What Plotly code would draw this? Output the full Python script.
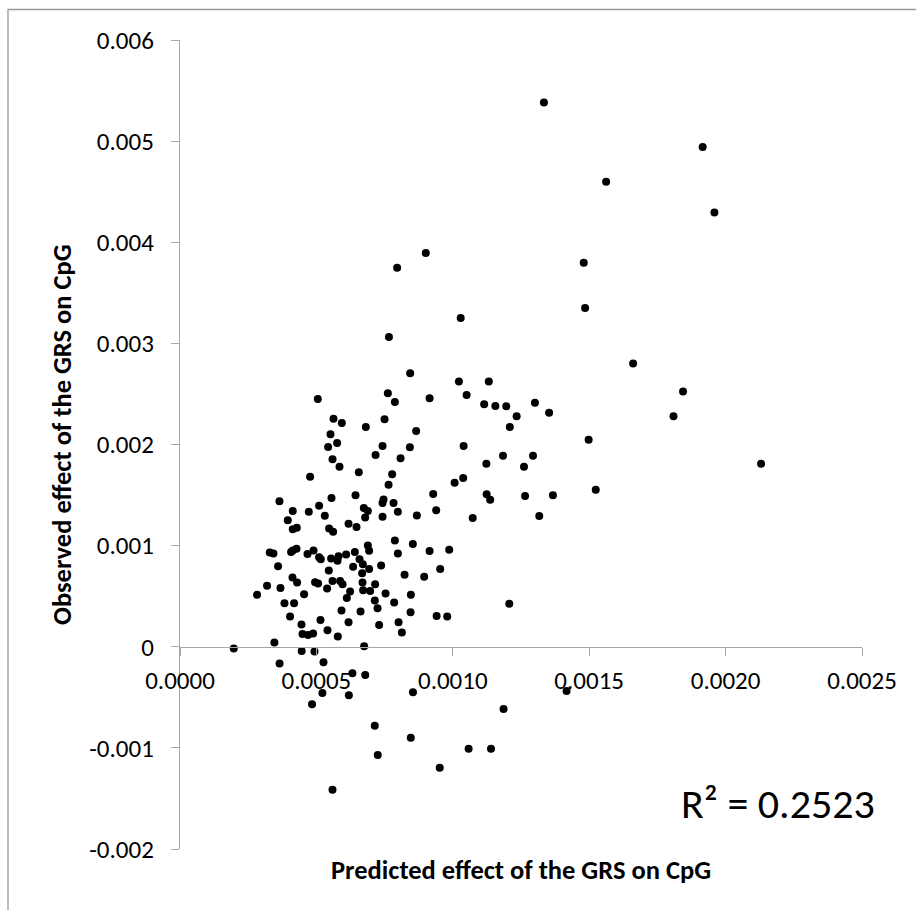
import plotly.graph_objects as go

# Predicted effect of the GRS on CpG (x) and observed effect (y)
upper_x = [0.000901, 0.000796, 0.001029, 0.000766, 0.001334, 0.001916, 0.001562, 0.001959, 0.001480, 0.001485]
upper_y = [0.003893, 0.003748, 0.003252, 0.003064, 0.005381, 0.004943, 0.004599, 0.004295, 0.003797, 0.003351]

right_x = [0.001661, 0.001132, 0.001844, 0.001115, 0.001156, 0.001196, 0.001301, 0.001353, 0.001234, 0.001809,
           0.001209, 0.001498, 0.001184, 0.001294, 0.001123, 0.001261, 0.002130, 0.001524, 0.001124, 0.001137,
           0.001265, 0.001367, 0.001073, 0.001317, 0.001207]
right_y = [0.002800, 0.002622, 0.002523, 0.002398, 0.002381, 0.002378, 0.002414, 0.002315, 0.002279, 0.002279,
           0.002173, 0.002048, 0.001889, 0.001889, 0.001810, 0.001780, 0.001810, 0.001552, 0.001507, 0.001453,
           0.001490, 0.001497, 0.001272, 0.001292, 0.000424]

low_x = [0.001417, 0.001186, 0.001140, 0.000197, 0.000346, 0.000446, 0.000493, 0.000675, 0.000365, 0.000526,
         0.000632, 0.000679, 0.000522, 0.000619, 0.000854, 0.000484, 0.000714, 0.000846, 0.000725, 0.001058,
         0.000952, 0.000559]
low_y = [-0.000438, -0.000616, -0.001008, -0.000018, 0.000042, -0.000042, -0.000048, 0.000005, -0.000166, -0.000153,
         -0.000262, -0.000279, -0.000457, -0.000480, -0.000450, -0.000569, -0.000780, -0.000899, -0.001071, -0.001008,
         -0.001196, -0.001414]

cluster_x = [0.0008437, 0.0010224, 0.0010506, 0.0005051, 0.0007619, 0.0007876, 0.0009149, 0.0005627, 0.0005932, 0.0007498,
             0.0006812, 0.0008657, 0.0005517, 0.0005759, 0.0005429, 0.0007425, 0.0008426, 0.0010396, 0.0007168, 0.0008085,
             0.0005591, 0.0005847, 0.0006555, 0.0007777, 0.0004769, 0.0010381, 0.0010066, 0.0007645, 0.0009281, 0.0006434,
             0.0005554, 0.0007461, 0.0007425, 0.0007828, 0.0003646, 0.0005099, 0.0006739, 0.0006886, 0.0004134, 0.0004721,
             0.0007986, 0.0009391, 0.0005308, 0.0006787, 0.0007425, 0.0008683, 0.0003951, 0.0006178, 0.0006471, 0.0004134,
             0.0004281, 0.0005466, 0.0005613, 0.0007876, 0.0008536, 0.0006886, 0.0006933, 0.0003291, 0.0003426, 0.0004134,
             0.0004270, 0.0004072, 0.0004894, 0.0004674, 0.0006409, 0.0007986, 0.0009149, 0.0009868, 0.0005099, 0.0005161,
             0.0005539, 0.0005811, 0.0005774, 0.0006090, 0.0006581, 0.0006702, 0.0003595, 0.0006346, 0.0006933, 0.0007373,
             0.0009538, 0.0005455, 0.0006676, 0.0008232, 0.0008951, 0.0004123, 0.0004292, 0.0004952, 0.0005062, 0.0005591,
             0.0005869, 0.0005957, 0.0006691, 0.0007153, 0.0003191, 0.0003683, 0.0005393, 0.0006236, 0.0006713, 0.0006970,
             0.0002825, 0.0004549, 0.0007535, 0.0008463, 0.0006115, 0.0007142, 0.0003830, 0.0004182, 0.0007850, 0.0007241,
             0.0005921, 0.0006618, 0.0008452, 0.0004035, 0.0009406, 0.0009795, 0.0005150, 0.0006178, 0.0008012, 0.0004453,
             0.0007300, 0.0005407, 0.0008133, 0.0004490, 0.0004696, 0.0004879, 0.0005785]
cluster_y = [0.002705, 0.002622, 0.002490, 0.002450, 0.002507, 0.002421, 0.002457, 0.002255, 0.002213, 0.002250,
             0.002173, 0.002134, 0.002101, 0.002015, 0.001975, 0.001985, 0.001972, 0.001985, 0.001896, 0.001863,
             0.001853, 0.001780, 0.001725, 0.001705, 0.001681, 0.001668, 0.001622, 0.001602, 0.001510, 0.001497,
             0.001470, 0.001457, 0.001421, 0.001421, 0.001438, 0.001394, 0.001371, 0.001342, 0.001342, 0.001335,
             0.001335, 0.001349, 0.001295, 0.001279, 0.001285, 0.001299, 0.001252, 0.001216, 0.001183, 0.001163,
             0.001176, 0.001170, 0.001137, 0.001051, 0.001015, 0.001002, 0.000949, 0.000933, 0.000923, 0.000952,
             0.000968, 0.000936, 0.000952, 0.000916, 0.000936, 0.000923, 0.000946, 0.000958, 0.000886, 0.000866,
             0.000873, 0.000896, 0.000850, 0.000913, 0.000866, 0.000817, 0.000797, 0.000790, 0.000770, 0.000804,
             0.000770, 0.000754, 0.000728, 0.000711, 0.000691, 0.000685, 0.000636, 0.000639, 0.000626, 0.000651,
             0.000651, 0.000619, 0.000636, 0.000619, 0.000602, 0.000582, 0.000576, 0.000547, 0.000559, 0.000552,
             0.000513, 0.000520, 0.000527, 0.000513, 0.000483, 0.000457, 0.000431, 0.000431, 0.000438, 0.000381,
             0.000358, 0.000349, 0.000342, 0.000299, 0.000305, 0.000299, 0.000265, 0.000243, 0.000243, 0.000220,
             0.000216, 0.000163, 0.000141, 0.000127, 0.000117, 0.000131, 0.000101]

x_ticks = [0.0, 0.0005, 0.0010, 0.0015, 0.0020, 0.0025]
x_tick_labels = ["0.0000", "0.0005", "0.0010", "0.0015", "0.0020", "0.0025"]
y_ticks = [-0.002, -0.001, 0.0, 0.001, 0.002, 0.003, 0.004, 0.005, 0.006]
y_tick_labels = ["-0.002", "-0.001", "0", "0.001", "0.002", "0.003", "0.004", "0.005", "0.006"]

xs = upper_x + right_x + low_x + cluster_x
ys = upper_y + right_y + low_y + cluster_y

FONT = "Carlito, Calibri, Lato, sans-serif"
AXIS_COLOR = "#a6a6a6"

fig = go.Figure()
fig.add_trace(go.Scatter(x=xs, y=ys, mode="markers",
                         marker=dict(color="black", size=8, line=dict(width=0)),
                         showlegend=False, hoverinfo="x+y"))

fig.update_layout(
    width=916, height=910,
    margin=dict(l=180, r=54, t=40, b=61),
    paper_bgcolor="white", plot_bgcolor="white",
    font=dict(family=FONT, color="black"),
    xaxis=dict(range=[0, 0.0025], anchor="free", position=0.25,
               showline=True, linecolor=AXIS_COLOR, linewidth=1.3,
               ticks="outside", ticklen=8, tickcolor=AXIS_COLOR, tickwidth=1.3,
               tickvals=x_ticks, ticktext=x_tick_labels,
               tickfont=dict(size=25, family=FONT, color="black"),
               ticklabelstandoff=3,
               showgrid=False, zeroline=False),
    yaxis=dict(range=[-0.002, 0.006],
               showline=True, linecolor=AXIS_COLOR, linewidth=1.3,
               ticks="outside", ticklen=8, tickcolor=AXIS_COLOR, tickwidth=1.3,
               tickvals=y_ticks, ticktext=y_tick_labels,
               tickfont=dict(size=25, family=FONT, color="black"),
               ticklabelstandoff=12,
               showgrid=False, zeroline=False),
    shapes=[dict(type="rect", xref="paper", yref="paper",
                 x0=-0.2522, x1=2.0, y0=-1.0, y1=1.0377,
                 line=dict(color="#999999", width=1.3), fillcolor="rgba(0,0,0,0)", layer="below")],
    annotations=[
        dict(text="<b>Predicted effect of the GRS on CpG</b>", xref="paper", yref="paper",
             x=0.5, y=(849 - 870) / 809.0, yanchor="middle", xanchor="center",
             showarrow=False, font=dict(size=26.5, family=FONT, color="black")),
        dict(text="<b>Observed effect of the GRS on CpG</b>", xref="paper", yref="paper",
             x=(62 - 180) / 682.0, y=(849 - 435) / 809.0, xanchor="center", yanchor="middle",
             textangle=-90, showarrow=False, font=dict(size=26.5, family=FONT, color="black")),
        dict(text="R² = 0.2523", xref="paper", yref="paper",
             x=(877 - 180) / 682.0, y=(849 - 803) / 809.0, xanchor="right", yanchor="middle",
             showarrow=False, font=dict(size=42, family=FONT, color="black")),
    ],
)

fig.write_html("out.html")
